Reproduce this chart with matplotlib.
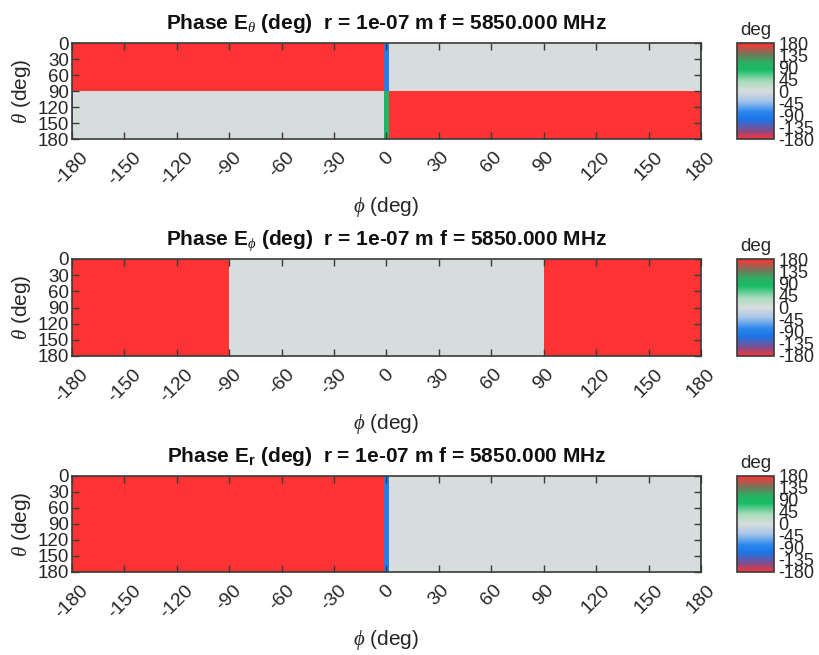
import numpy as np
import matplotlib
matplotlib.use("Agg")
import matplotlib.pyplot as plt
from matplotlib.colors import LinearSegmentedColormap, Normalize

plt.rcParams['font.family'] = ['Liberation Sans', 'DejaVu Sans']
plt.rcParams['axes.unicode_minus'] = False
plt.rcParams['mathtext.fontset'] = 'custom'
plt.rcParams['mathtext.it'] = 'Liberation Serif:italic'
plt.rcParams['mathtext.rm'] = 'Liberation Sans'
plt.rcParams['mathtext.bf'] = 'Liberation Sans:bold'

# ---- field data: piecewise-constant phase (deg) over phi (cols) x theta (rows)
theta_edges = [0, 90, 180]

eth_phi_edges = [-180, -179.3, -1.5, 1.5, 179.3, 180]
eth_phase = [[180, 180, -90, 0, 90],     # theta 0..90
             [-90, 0, 90, 180, 180]]     # theta 90..180

eph_phi_edges = [-180, -90, 90, 180]
eph_phase = [[180, 0, 180],
             [180, 0, 180]]

er_phi_edges = [-180, -1.5, 1.5, 179.3, 180]
er_phase = [[180, -90, 0, 90],
            [180, -90, 0, 90]]

phi_ticks = [-180, -150, -120, -90, -60, -30, 0, 30, 60, 90, 120, 150, 180]
theta_ticks = [0, 30, 60, 90, 120, 150, 180]
cbar_ticks = [-180, -135, -90, -45, 0, 45, 90, 135, 180]

titles = [r'Phase E$_{\theta}$ (deg)  r = 1e-07 m f = 5850.000 MHz',
          r'Phase E$_{\phi}$ (deg)  r = 1e-07 m f = 5850.000 MHz',
          r'Phase E$_{\mathbf{r}}$ (deg)  r = 1e-07 m f = 5850.000 MHz']

# ---- cyclic phase colormap
anchors = [
    (0.000, '#ff3333'),
    (0.080, '#8a4a86'),
    (0.200, '#1c74e6'),
    (0.280, '#2a86ee'),
    (0.400, '#a9c6ea'),
    (0.500, '#d7dcdc'),
    (0.600, '#a9dcbc'),
    (0.720, '#16bc66'),
    (0.800, '#2cae62'),
    (0.890, '#7a7258'),
    (1.000, '#ff3333'),
]
cmap = LinearSegmentedColormap.from_list('phase', anchors, N=512)
norm = Normalize(-180, 180)

W, H = 820, 655
fig = plt.figure(figsize=(W / 100, H / 100), dpi=100)

ax_left, ax_right = 72, 701
ax_rows = [(43, 139), (259, 356), (476, 572)]
cb_left, cb_right = 737, 774

fields = [(eth_phi_edges, eth_phase), (eph_phi_edges, eph_phase), (er_phi_edges, er_phase)]

spine_col = '#3a3a3a'
text_col = '#262626'
for (top, bot), (pe, vals), title in zip(ax_rows, fields, titles):
    ax = fig.add_axes([ax_left / W, 1 - bot / H, (ax_right - ax_left) / W, (bot - top) / H])
    mesh = ax.pcolormesh(pe, theta_edges, np.array(vals, dtype=float), cmap=cmap, norm=norm,
                         shading='flat', antialiased=False, linewidth=0)
    ax.set_xlim(-180, 180)
    ax.set_ylim(180, 0)
    ax.set_xticks(phi_ticks)
    ax.set_yticks(theta_ticks)
    ax.set_xticklabels([str(t) for t in phi_ticks], rotation=45, ha='center', fontsize=14)
    ax.set_yticklabels([str(t) for t in theta_ticks], fontsize=13.5)
    ax.tick_params(direction='in', length=5, width=1, color=spine_col, top=True, right=True,
                   labelcolor=text_col)
    ax.tick_params(axis='x', pad=7)
    ax.tick_params(axis='y', pad=2)
    for s in ax.spines.values():
        s.set_color(spine_col)
        s.set_linewidth(1.2)
    ax.set_title(title, fontsize=15, fontweight='bold', pad=10, color='#111111')
    ax.set_xlabel(r'$\phi$ (deg)', fontsize=15, color=text_col, labelpad=5)
    ax.set_ylabel(r'$\theta$ (deg)', fontsize=15, color=text_col)
    ax.yaxis.set_label_coords(-0.062, 0.5)

    cax = fig.add_axes([cb_left / W, 1 - bot / H, (cb_right - cb_left) / W, (bot - top) / H])
    cb = fig.colorbar(mesh, cax=cax, ticks=cbar_ticks)
    cb.ax.tick_params(length=0, labelsize=13, pad=3, labelcolor=text_col)
    cb.outline.set_edgecolor(spine_col)
    cb.outline.set_linewidth(1.2)
    cax.set_title('deg', fontsize=13.5, pad=6, color=text_col)

fig.savefig('out.png', dpi=100)
